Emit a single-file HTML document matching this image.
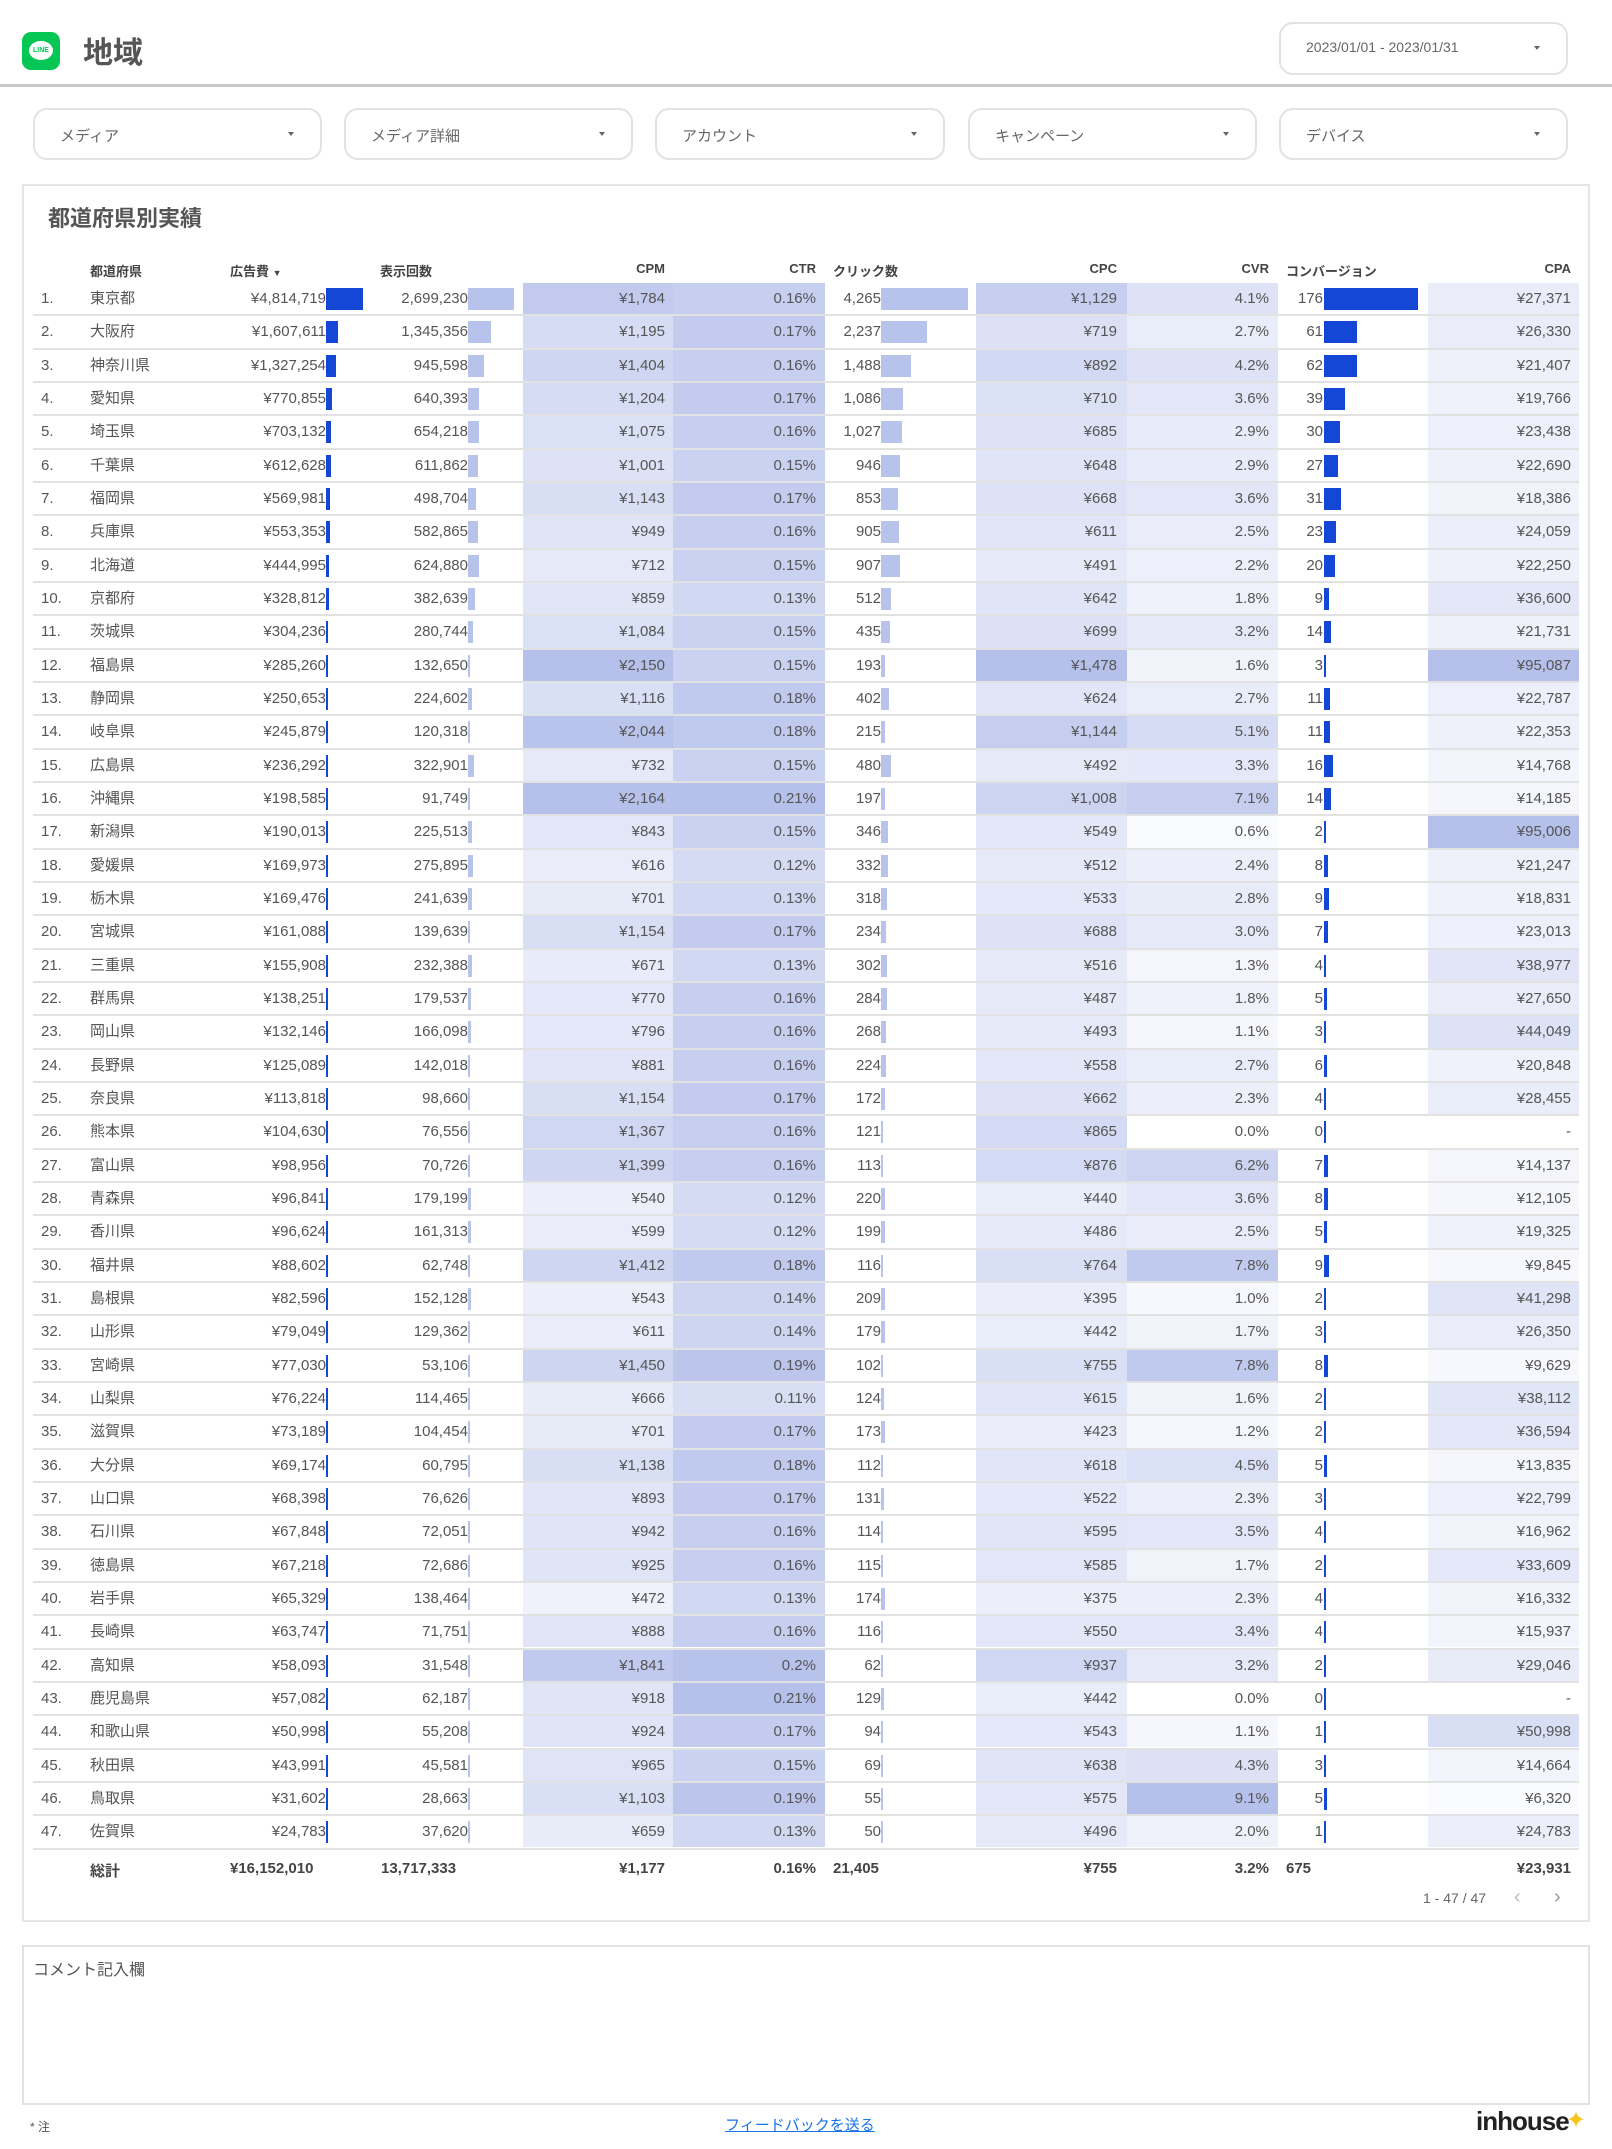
<!DOCTYPE html>
<html><head><meta charset="utf-8">
<style>
*{margin:0;padding:0;box-sizing:border-box}
body{width:1612px;height:2149px;background:#fff;position:relative;font-family:"Liberation Sans","Noto Sans CJK JP",sans-serif;color:#555;overflow:hidden}
.abs{position:absolute}
.logo{left:22px;top:32px;width:38px;height:38px;background:#06c755;border-radius:9px}
.logo:after{content:"LINE";position:absolute;left:7px;top:9px;width:24px;height:19px;background:#fff;border-radius:50%;font-size:7px;font-weight:bold;color:#06c755;text-align:center;line-height:19px}
.title{left:83px;top:28px;font-size:30px;font-weight:bold;color:#555}
.hline{left:0;top:84px;width:1612px;height:3px;background:#c8c8c8}
.box{border:2px solid #e2e2e2;border-radius:14px;font-size:15px;color:#666}
.box .t{position:absolute;left:25px;top:15px}
.box .a{position:absolute;right:26px;top:22px;width:0;height:0;border-left:3px solid transparent;border-right:3px solid transparent;border-top:4px solid #666}
.card{left:22px;top:184px;width:1568px;height:1738px;border:2px solid #e6e6e6}
.ct{left:48px;top:201px;font-size:22px;font-weight:bold;color:#555}
.hd{top:261px;font-size:13px;font-weight:bold;color:#444;white-space:nowrap}
.r{position:absolute;left:33px;width:1546px;height:33.33px;border-bottom:2px solid #e2e2e2;font-size:15px;color:#555}
.r span{position:absolute;top:0;height:31.3px;line-height:31px;white-space:nowrap}
.r span:nth-child(1){left:8px}
.r span:nth-child(2){left:57px}
.r span:nth-child(3){right:1253px}
.r span:nth-child(4){right:1111px}
.r span:nth-child(5){left:490px;width:150px;text-align:right;padding-right:8px}
.r span:nth-child(6){left:640px;width:152px;text-align:right;padding-right:9px}
.r span:nth-child(7){right:698px}
.r span:nth-child(8){left:943px;width:151px;text-align:right;padding-right:10px}
.r span:nth-child(9){left:1094px;width:151px;text-align:right;padding-right:9px}
.r span:nth-child(10){right:256px}
.r span:nth-child(11){left:1395px;width:151px;text-align:right;padding-right:8px}
.bar{position:absolute;top:5px;height:22px}
.tot{top:1860px;font-size:15px;font-weight:bold;color:#444;white-space:nowrap}
</style></head><body>
<div class="abs logo"></div>
<div class="abs title">地域</div>
<div class="abs box" style="left:1279px;top:22px;width:289px;height:53px"><div class="t" style="top:15px;font-size:14px">2023/01/01 - 2023/01/31</div><div class="a"></div></div>
<div class="abs hline"></div>
<div class="abs box" style="left:33px;top:108px;width:289px;height:52px"><div class="t">メディア</div><div class="a"></div></div>
<div class="abs box" style="left:344px;top:108px;width:289px;height:52px"><div class="t">メディア詳細</div><div class="a"></div></div>
<div class="abs box" style="left:655px;top:108px;width:290px;height:52px"><div class="t">アカウント</div><div class="a"></div></div>
<div class="abs box" style="left:968px;top:108px;width:289px;height:52px"><div class="t">キャンペーン</div><div class="a"></div></div>
<div class="abs box" style="left:1279px;top:108px;width:289px;height:52px"><div class="t">デバイス</div><div class="a"></div></div>

<div class="abs card"></div>
<div class="abs ct">都道府県別実績</div>
<div class="abs hd" style="left:90px">都道府県</div>
<div class="abs hd" style="left:230px">広告費 <span style="font-size:9px">▼</span></div>
<div class="abs hd" style="left:380px">表示回数</div>
<div class="abs hd" style="right:947px">CPM</div>
<div class="abs hd" style="right:796px">CTR</div>
<div class="abs hd" style="left:833px">クリック数</div>
<div class="abs hd" style="right:495px">CPC</div>
<div class="abs hd" style="right:343px">CVR</div>
<div class="abs hd" style="left:1286px">コンバージョン</div>
<div class="abs hd" style="right:41px">CPA</div>

<div id="rows">
<div class="r"><span>1.</span><span>東京都</span><span>¥4,814,719</span><span>2,699,230</span><span>¥1,784</span><span>0.16%</span><span>4,265</span><span>¥1,129</span><span>4.1%</span><span>176</span><span>¥27,371</span></div>
<div class="r"><span>2.</span><span>大阪府</span><span>¥1,607,611</span><span>1,345,356</span><span>¥1,195</span><span>0.17%</span><span>2,237</span><span>¥719</span><span>2.7%</span><span>61</span><span>¥26,330</span></div>
<div class="r"><span>3.</span><span>神奈川県</span><span>¥1,327,254</span><span>945,598</span><span>¥1,404</span><span>0.16%</span><span>1,488</span><span>¥892</span><span>4.2%</span><span>62</span><span>¥21,407</span></div>
<div class="r"><span>4.</span><span>愛知県</span><span>¥770,855</span><span>640,393</span><span>¥1,204</span><span>0.17%</span><span>1,086</span><span>¥710</span><span>3.6%</span><span>39</span><span>¥19,766</span></div>
<div class="r"><span>5.</span><span>埼玉県</span><span>¥703,132</span><span>654,218</span><span>¥1,075</span><span>0.16%</span><span>1,027</span><span>¥685</span><span>2.9%</span><span>30</span><span>¥23,438</span></div>
<div class="r"><span>6.</span><span>千葉県</span><span>¥612,628</span><span>611,862</span><span>¥1,001</span><span>0.15%</span><span>946</span><span>¥648</span><span>2.9%</span><span>27</span><span>¥22,690</span></div>
<div class="r"><span>7.</span><span>福岡県</span><span>¥569,981</span><span>498,704</span><span>¥1,143</span><span>0.17%</span><span>853</span><span>¥668</span><span>3.6%</span><span>31</span><span>¥18,386</span></div>
<div class="r"><span>8.</span><span>兵庫県</span><span>¥553,353</span><span>582,865</span><span>¥949</span><span>0.16%</span><span>905</span><span>¥611</span><span>2.5%</span><span>23</span><span>¥24,059</span></div>
<div class="r"><span>9.</span><span>北海道</span><span>¥444,995</span><span>624,880</span><span>¥712</span><span>0.15%</span><span>907</span><span>¥491</span><span>2.2%</span><span>20</span><span>¥22,250</span></div>
<div class="r"><span>10.</span><span>京都府</span><span>¥328,812</span><span>382,639</span><span>¥859</span><span>0.13%</span><span>512</span><span>¥642</span><span>1.8%</span><span>9</span><span>¥36,600</span></div>
<div class="r"><span>11.</span><span>茨城県</span><span>¥304,236</span><span>280,744</span><span>¥1,084</span><span>0.15%</span><span>435</span><span>¥699</span><span>3.2%</span><span>14</span><span>¥21,731</span></div>
<div class="r"><span>12.</span><span>福島県</span><span>¥285,260</span><span>132,650</span><span>¥2,150</span><span>0.15%</span><span>193</span><span>¥1,478</span><span>1.6%</span><span>3</span><span>¥95,087</span></div>
<div class="r"><span>13.</span><span>静岡県</span><span>¥250,653</span><span>224,602</span><span>¥1,116</span><span>0.18%</span><span>402</span><span>¥624</span><span>2.7%</span><span>11</span><span>¥22,787</span></div>
<div class="r"><span>14.</span><span>岐阜県</span><span>¥245,879</span><span>120,318</span><span>¥2,044</span><span>0.18%</span><span>215</span><span>¥1,144</span><span>5.1%</span><span>11</span><span>¥22,353</span></div>
<div class="r"><span>15.</span><span>広島県</span><span>¥236,292</span><span>322,901</span><span>¥732</span><span>0.15%</span><span>480</span><span>¥492</span><span>3.3%</span><span>16</span><span>¥14,768</span></div>
<div class="r"><span>16.</span><span>沖縄県</span><span>¥198,585</span><span>91,749</span><span>¥2,164</span><span>0.21%</span><span>197</span><span>¥1,008</span><span>7.1%</span><span>14</span><span>¥14,185</span></div>
<div class="r"><span>17.</span><span>新潟県</span><span>¥190,013</span><span>225,513</span><span>¥843</span><span>0.15%</span><span>346</span><span>¥549</span><span>0.6%</span><span>2</span><span>¥95,006</span></div>
<div class="r"><span>18.</span><span>愛媛県</span><span>¥169,973</span><span>275,895</span><span>¥616</span><span>0.12%</span><span>332</span><span>¥512</span><span>2.4%</span><span>8</span><span>¥21,247</span></div>
<div class="r"><span>19.</span><span>栃木県</span><span>¥169,476</span><span>241,639</span><span>¥701</span><span>0.13%</span><span>318</span><span>¥533</span><span>2.8%</span><span>9</span><span>¥18,831</span></div>
<div class="r"><span>20.</span><span>宮城県</span><span>¥161,088</span><span>139,639</span><span>¥1,154</span><span>0.17%</span><span>234</span><span>¥688</span><span>3.0%</span><span>7</span><span>¥23,013</span></div>
<div class="r"><span>21.</span><span>三重県</span><span>¥155,908</span><span>232,388</span><span>¥671</span><span>0.13%</span><span>302</span><span>¥516</span><span>1.3%</span><span>4</span><span>¥38,977</span></div>
<div class="r"><span>22.</span><span>群馬県</span><span>¥138,251</span><span>179,537</span><span>¥770</span><span>0.16%</span><span>284</span><span>¥487</span><span>1.8%</span><span>5</span><span>¥27,650</span></div>
<div class="r"><span>23.</span><span>岡山県</span><span>¥132,146</span><span>166,098</span><span>¥796</span><span>0.16%</span><span>268</span><span>¥493</span><span>1.1%</span><span>3</span><span>¥44,049</span></div>
<div class="r"><span>24.</span><span>長野県</span><span>¥125,089</span><span>142,018</span><span>¥881</span><span>0.16%</span><span>224</span><span>¥558</span><span>2.7%</span><span>6</span><span>¥20,848</span></div>
<div class="r"><span>25.</span><span>奈良県</span><span>¥113,818</span><span>98,660</span><span>¥1,154</span><span>0.17%</span><span>172</span><span>¥662</span><span>2.3%</span><span>4</span><span>¥28,455</span></div>
<div class="r"><span>26.</span><span>熊本県</span><span>¥104,630</span><span>76,556</span><span>¥1,367</span><span>0.16%</span><span>121</span><span>¥865</span><span>0.0%</span><span>0</span><span>-</span></div>
<div class="r"><span>27.</span><span>富山県</span><span>¥98,956</span><span>70,726</span><span>¥1,399</span><span>0.16%</span><span>113</span><span>¥876</span><span>6.2%</span><span>7</span><span>¥14,137</span></div>
<div class="r"><span>28.</span><span>青森県</span><span>¥96,841</span><span>179,199</span><span>¥540</span><span>0.12%</span><span>220</span><span>¥440</span><span>3.6%</span><span>8</span><span>¥12,105</span></div>
<div class="r"><span>29.</span><span>香川県</span><span>¥96,624</span><span>161,313</span><span>¥599</span><span>0.12%</span><span>199</span><span>¥486</span><span>2.5%</span><span>5</span><span>¥19,325</span></div>
<div class="r"><span>30.</span><span>福井県</span><span>¥88,602</span><span>62,748</span><span>¥1,412</span><span>0.18%</span><span>116</span><span>¥764</span><span>7.8%</span><span>9</span><span>¥9,845</span></div>
<div class="r"><span>31.</span><span>島根県</span><span>¥82,596</span><span>152,128</span><span>¥543</span><span>0.14%</span><span>209</span><span>¥395</span><span>1.0%</span><span>2</span><span>¥41,298</span></div>
<div class="r"><span>32.</span><span>山形県</span><span>¥79,049</span><span>129,362</span><span>¥611</span><span>0.14%</span><span>179</span><span>¥442</span><span>1.7%</span><span>3</span><span>¥26,350</span></div>
<div class="r"><span>33.</span><span>宮崎県</span><span>¥77,030</span><span>53,106</span><span>¥1,450</span><span>0.19%</span><span>102</span><span>¥755</span><span>7.8%</span><span>8</span><span>¥9,629</span></div>
<div class="r"><span>34.</span><span>山梨県</span><span>¥76,224</span><span>114,465</span><span>¥666</span><span>0.11%</span><span>124</span><span>¥615</span><span>1.6%</span><span>2</span><span>¥38,112</span></div>
<div class="r"><span>35.</span><span>滋賀県</span><span>¥73,189</span><span>104,454</span><span>¥701</span><span>0.17%</span><span>173</span><span>¥423</span><span>1.2%</span><span>2</span><span>¥36,594</span></div>
<div class="r"><span>36.</span><span>大分県</span><span>¥69,174</span><span>60,795</span><span>¥1,138</span><span>0.18%</span><span>112</span><span>¥618</span><span>4.5%</span><span>5</span><span>¥13,835</span></div>
<div class="r"><span>37.</span><span>山口県</span><span>¥68,398</span><span>76,626</span><span>¥893</span><span>0.17%</span><span>131</span><span>¥522</span><span>2.3%</span><span>3</span><span>¥22,799</span></div>
<div class="r"><span>38.</span><span>石川県</span><span>¥67,848</span><span>72,051</span><span>¥942</span><span>0.16%</span><span>114</span><span>¥595</span><span>3.5%</span><span>4</span><span>¥16,962</span></div>
<div class="r"><span>39.</span><span>徳島県</span><span>¥67,218</span><span>72,686</span><span>¥925</span><span>0.16%</span><span>115</span><span>¥585</span><span>1.7%</span><span>2</span><span>¥33,609</span></div>
<div class="r"><span>40.</span><span>岩手県</span><span>¥65,329</span><span>138,464</span><span>¥472</span><span>0.13%</span><span>174</span><span>¥375</span><span>2.3%</span><span>4</span><span>¥16,332</span></div>
<div class="r"><span>41.</span><span>長崎県</span><span>¥63,747</span><span>71,751</span><span>¥888</span><span>0.16%</span><span>116</span><span>¥550</span><span>3.4%</span><span>4</span><span>¥15,937</span></div>
<div class="r"><span>42.</span><span>高知県</span><span>¥58,093</span><span>31,548</span><span>¥1,841</span><span>0.2%</span><span>62</span><span>¥937</span><span>3.2%</span><span>2</span><span>¥29,046</span></div>
<div class="r"><span>43.</span><span>鹿児島県</span><span>¥57,082</span><span>62,187</span><span>¥918</span><span>0.21%</span><span>129</span><span>¥442</span><span>0.0%</span><span>0</span><span>-</span></div>
<div class="r"><span>44.</span><span>和歌山県</span><span>¥50,998</span><span>55,208</span><span>¥924</span><span>0.17%</span><span>94</span><span>¥543</span><span>1.1%</span><span>1</span><span>¥50,998</span></div>
<div class="r"><span>45.</span><span>秋田県</span><span>¥43,991</span><span>45,581</span><span>¥965</span><span>0.15%</span><span>69</span><span>¥638</span><span>4.3%</span><span>3</span><span>¥14,664</span></div>
<div class="r"><span>46.</span><span>鳥取県</span><span>¥31,602</span><span>28,663</span><span>¥1,103</span><span>0.19%</span><span>55</span><span>¥575</span><span>9.1%</span><span>5</span><span>¥6,320</span></div>
<div class="r"><span>47.</span><span>佐賀県</span><span>¥24,783</span><span>37,620</span><span>¥659</span><span>0.13%</span><span>50</span><span>¥496</span><span>2.0%</span><span>1</span><span>¥24,783</span></div>
</div>

<div class="abs tot" style="left:90px">総計</div>
<div class="abs tot" style="left:230px">¥16,152,010</div>
<div class="abs tot" style="left:381px">13,717,333</div>
<div class="abs tot" style="right:947px">¥1,177</div>
<div class="abs tot" style="right:796px">0.16%</div>
<div class="abs tot" style="left:833px">21,405</div>
<div class="abs tot" style="right:495px">¥755</div>
<div class="abs tot" style="right:343px">3.2%</div>
<div class="abs tot" style="left:1286px">675</div>
<div class="abs tot" style="right:41px">¥23,931</div>
<div class="abs" style="left:1423px;top:1890px;font-size:14px;color:#666">1 - 47 / 47</div>
<div class="abs" style="left:1514px;top:1886px;font-size:20px;color:#bbb">&#8249;</div>
<div class="abs" style="left:1554px;top:1886px;font-size:20px;color:#999">&#8250;</div>

<div class="abs" style="left:22px;top:1945px;width:1568px;height:160px;border:2px solid #e2e2e2"></div>
<div class="abs" style="left:33px;top:1956px;font-size:16px;color:#555">コメント記入欄</div>
<div class="abs" style="left:30px;top:2118px;font-size:12px;color:#555">* 注</div>
<div class="abs" style="left:725px;top:2114px;font-size:15px;color:#1a73e8;text-decoration:underline">フィードバックを送る</div>
<div class="abs" style="left:1476px;top:2106px;font-size:26px;font-weight:bold;color:#222;letter-spacing:-1px">inhouse</div>
<div class="abs" style="left:1566px;top:2106px;font-size:24px;color:#f5c518">&#10022;</div>

<script>
var rows=document.querySelectorAll('#rows .r');
var heat=[4,5,7,8,10],bars={2:[293,37,'#1447d6'],3:[435,46,'#b7c3ea'],6:[848,87,'#b7c3ea'],9:[1291,94,'#1447d6']};
function num(s){var v=parseFloat(s.replace(/[¥,%]/g,''));return isNaN(v)?0:v;}
var max={};
rows.forEach(function(r,i){r.style.top=(283+i*33.33)+'px';var c=r.children;for(var k=2;k<11;k++){var v=num(c[k].textContent);if(!(k in max)||v>max[k])max[k]=v;}});
rows.forEach(function(r){var c=r.children;
heat.forEach(function(k){var a=0.45*num(c[k].textContent)/max[k];c[k].style.background='rgba(90,115,210,'+a.toFixed(3)+')';});
for(var k in bars){var b=bars[k],v=num(c[k].textContent),w=Math.max(2,b[1]*v/max[k]);if(v==0)w=1.5;var d=document.createElement('div');d.className='bar';d.style.left=b[0]+'px';d.style.width=w+'px';d.style.background=b[2];r.appendChild(d);}
});
</script>
</body></html>
